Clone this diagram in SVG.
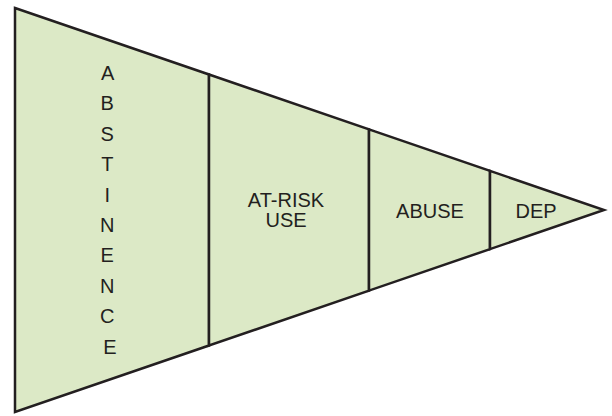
<svg xmlns="http://www.w3.org/2000/svg" width="612" height="416" viewBox="0 0 612 416">
  <style>
    .seg { fill: #dce9c6; stroke: #231f20; stroke-width: 2.5; stroke-linejoin: miter; }
    .lbl { font-family: "Liberation Sans", Arial, sans-serif; font-size: 20px; fill: #231f20; text-anchor: middle; }
  </style>
  <rect width="612" height="416" fill="#ffffff"/>
  <!-- Funnel stages, widest on the left, narrowing to the apex on the right -->
  <g id="abstinence">
    <polygon class="seg" points="15,8 209,74.5 209,345.5 15,412"/>
    <text class="lbl">
      <tspan x="110" y="80">A</tspan>
      <tspan x="110" y="110.4">B</tspan>
      <tspan x="110" y="140.8">S</tspan>
      <tspan x="110" y="171.2">T</tspan>
      <tspan x="110" y="201.6">I</tspan>
      <tspan x="110" y="232">N</tspan>
      <tspan x="110" y="262.4">E</tspan>
      <tspan x="110" y="292.8">N</tspan>
      <tspan x="110" y="323.2">C</tspan>
      <tspan x="110" y="353.6">E</tspan>
    </text>
  </g>
  <g id="at-risk-use">
    <polygon class="seg" points="209,74.5 369,129.4 369,290.6 209,345.5"/>
    <text class="lbl"><tspan x="286" y="207">AT-RISK</tspan><tspan x="286" y="227">USE</tspan></text>
  </g>
  <g id="abuse">
    <polygon class="seg" points="369,129.4 490,170.9 490,249.1 369,290.6"/>
    <text class="lbl" x="430" y="217.5">ABUSE</text>
  </g>
  <g id="dep">
    <polygon class="seg" points="490,170.9 604,210 490,249.1"/>
    <text class="lbl" x="536" y="217.5">DEP</text>
  </g>
</svg>
